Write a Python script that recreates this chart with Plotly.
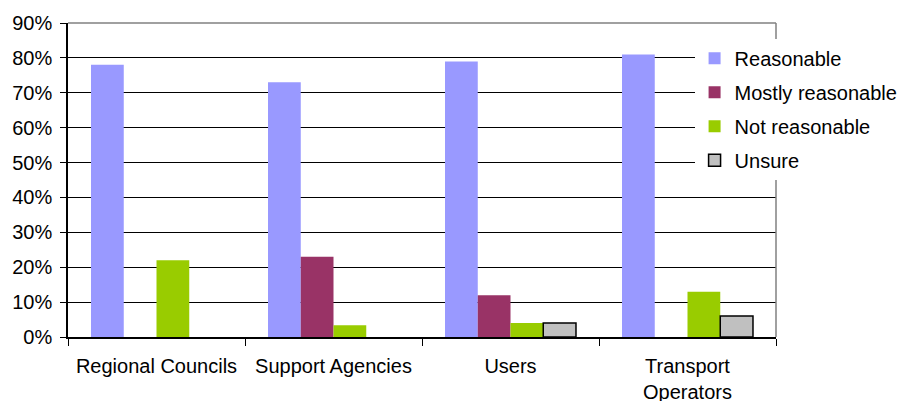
import plotly.graph_objects as go

categories = ["Regional Councils", "Support Agencies", "Users", "Transport<br>Operators"]
series_names = ["Reasonable", "Mostly reasonable", "Not reasonable", "Unsure"]
reasonable = [0.78, 0.73, 0.79, 0.81]
mostly_reasonable = [None, 0.23, 0.12, None]
not_reasonable = [0.22, 0.034, 0.04, 0.13]
unsure = [None, None, 0.04, 0.06]
y_ticks = [0.0, 0.1, 0.2, 0.3, 0.4, 0.5, 0.6, 0.7, 0.8, 0.9]

colors = ["#9999FF", "#993366", "#99CC00", "#C0C0C0"]
values = [reasonable, mostly_reasonable, not_reasonable, unsure]

FONT = "Liberation Sans, Arial, sans-serif"
FS = 20

fig = go.Figure()
for name, vals, col in zip(series_names, values, colors):
    outline = dict(color="#000000", width=1.5) if name == "Unsure" else dict(width=0)
    fig.add_trace(go.Bar(
        x=categories, y=vals, name=name, legendgroup=name,
        marker=dict(color=col, line=outline),
    ))

fig.update_layout(
    width=905, height=401,
    margin=dict(l=68, r=129, t=23, b=64, autoexpand=False),
    paper_bgcolor="white", plot_bgcolor="white",
    barmode="group", bargap=0.26, bargroupgap=0,
    font=dict(family=FONT, size=FS, color="#000000"),
    legend=dict(
        x=0.885, y=0.95, xanchor="left", yanchor="top",
        bgcolor="white", borderwidth=0,
        font=dict(family=FONT, size=FS, color="#000000"),
        tracegroupgap=5, traceorder="grouped",
    ),
    showlegend=True,
)

fig.update_yaxes(
    range=[0, 0.9], tickvals=y_ticks, tickformat=".0%",
    showgrid=True, gridcolor="#000000", gridwidth=1,
    showline=True, linecolor="#000000", linewidth=1.5,
    ticks="outside", ticklen=6, tickcolor="#000000",
    ticklabelstandoff=4, automargin=False,
    zeroline=False, fixedrange=True,
)
fig.update_xaxes(
    showline=True, linecolor="#000000", linewidth=1.5,
    ticks="outside", ticklen=7, tickcolor="#000000", tickson="boundaries",
    ticklabelstandoff=10, automargin=False,
    showgrid=False, fixedrange=True,
)

# plot-area border on the top and right sides
fig.add_shape(type="line", xref="paper", yref="paper", x0=0, x1=1, y0=1, y1=1,
              line=dict(color="#808080", width=1.5), layer="above")
fig.add_shape(type="line", xref="paper", yref="paper", x0=1, x1=1, y0=0, y1=1,
              line=dict(color="#808080", width=1.5), layer="above")

fig.write_html("out.html")
